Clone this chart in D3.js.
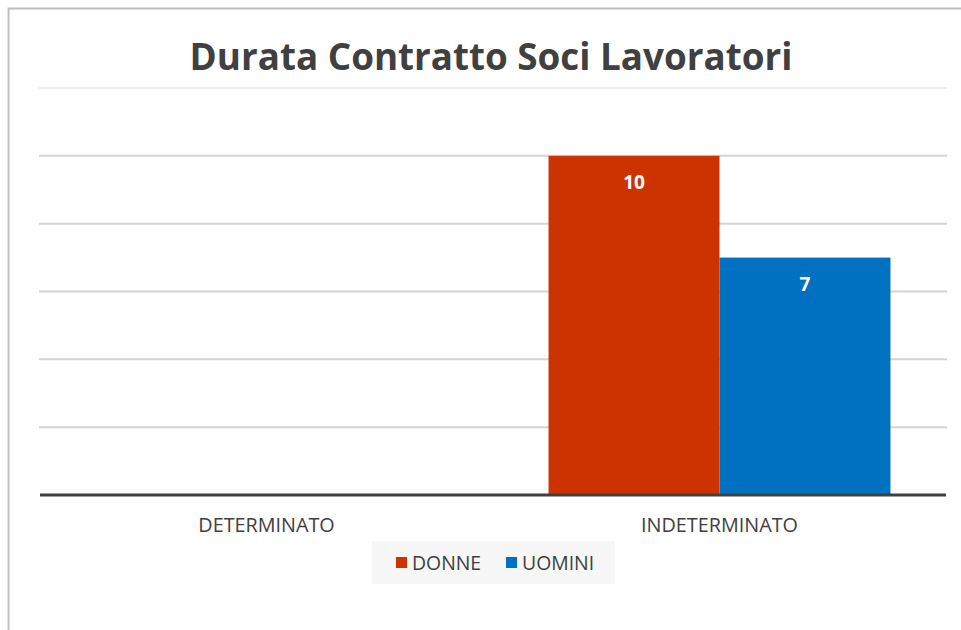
<!DOCTYPE html>
<html>
<head>
<meta charset="utf-8">
<script src="https://cdn.jsdelivr.net/npm/d3@7"></script>
<style>
	body { margin: 0; background: #fff; }
	svg { display: block; font-family: "Open Sans", sans-serif; }
</style>
</head>
<body>
<div id="chart"></div>
<script>
	// data
	var categories = ["DETERMINATO", "INDETERMINATO"];
	var seriesNames = ["DONNE", "UOMINI"];
	var donne = [0, 10];
	var uomini = [0, 7];
	var yTicks = [0, 2, 4, 6, 8, 10, 12];
	var colors = ["#cc3300", "#0070c0"];

	var w = 961, h = 630;

	var svg = d3.select("#chart")
		.append("svg")
		.attr("width", w)
		.attr("height", h);

	// outer frame
	svg.append("rect")
		.attr("x", 8.5)
		.attr("y", 8.5)
		.attr("width", w + 20)
		.attr("height", h + 20)
		.attr("fill", "#fff")
		.attr("stroke", "#bfbfbf")
		.attr("stroke-width", 2);

	svg.append("text")
		.attr("x", 491)
		.attr("y", 70)
		.attr("text-anchor", "middle")
		.attr("font-size", 36.8)
		.attr("font-weight", "bold")
		.attr("fill", "#404040")
		.text("Durata Contratto Soci Lavoratori");

	var x = d3.scaleBand()
		.domain(categories)
		.range([40, 946]);

	var x1 = d3.scaleBand()
		.domain(seriesNames)
		.range([0, x.bandwidth()])
		.paddingOuter(0.325);

	var y = d3.scaleLinear()
		.domain([0, 12])
		.range([495, 88]);

	// gridlines
	svg.append("g")
		.selectAll("line")
		.data(yTicks.slice(1))
		.enter()
		.append("line")
		.attr("x1", 39)
		.attr("x2", 947)
		.attr("y1", function(d) { return y(d); })
		.attr("y2", function(d) { return y(d); })
		.attr("stroke", function(d) { return d == 12 ? "#ececec" : "#d4d4d4"; })
		.attr("stroke-width", 2);

	var rows = categories.map(function(c, i) {
		return [
			{cat: c, name: seriesNames[0], value: donne[i], color: colors[0]},
			{cat: c, name: seriesNames[1], value: uomini[i], color: colors[1]}
		];
	});

	var groups = svg.append("g")
		.selectAll("g")
		.data(rows)
		.enter()
		.append("g")
		.attr("transform", function(d, i) { return "translate(" + x(categories[i]) + ",0)"; });

	groups.selectAll("rect")
		.data(function(d) { return d.filter(function(e) { return e.value > 0; }); })
		.enter()
		.append("rect")
		.attr("x", function(d) { return x1(d.name); })
		.attr("y", function(d) { return y(d.value); })
		.attr("width", x1.bandwidth())
		.attr("height", function(d) { return y(0) - y(d.value); })
		.attr("fill", function(d) { return d.color; });

	groups.selectAll("text")
		.data(function(d) { return d.filter(function(e) { return e.value > 0; }); })
		.enter()
		.append("text")
		.attr("x", function(d) { return x1(d.name) + x1.bandwidth() / 2; })
		.attr("y", function(d) { return y(d.value) + 33; })
		.attr("text-anchor", "middle")
		.attr("font-size", 19)
		.attr("font-weight", "bold")
		.attr("fill", "#fff")
		.text(function(d) { return d.value; });

	// baseline
	svg.append("line")
		.attr("x1", 40)
		.attr("x2", 946)
		.attr("y1", y(0))
		.attr("y2", y(0))
		.attr("stroke", "#404040")
		.attr("stroke-width", 3);

	var xAxis = svg.append("g")
		.attr("transform", "translate(0," + (y(0) + 1) + ")")
		.call(d3.axisBottom(x).tickSize(0).tickPadding(22));
	xAxis.select(".domain").remove();
	xAxis.selectAll("text")
		.attr("font-family", "Open Sans")
		.attr("font-size", 19.8)
		.attr("fill", "#404040");

	// legend
	var legend = svg.append("g");
	legend.append("rect")
		.attr("x", 372)
		.attr("y", 541)
		.attr("width", 243)
		.attr("height", 43)
		.attr("fill", "#f7f7f7");

	var legendX = [396, 506];
	var items = legend.selectAll("g")
		.data(seriesNames)
		.enter()
		.append("g")
		.attr("transform", function(d, i) { return "translate(" + legendX[i] + ",557)"; });
	items.append("rect")
		.attr("width", 11)
		.attr("height", 11)
		.attr("fill", function(d, i) { return colors[i]; });
	items.append("text")
		.attr("x", 16)
		.attr("y", 13)
		.attr("font-size", 19.4)
		.attr("fill", "#404040")
		.text(function(d) { return d; });
</script>
</body>
</html>
